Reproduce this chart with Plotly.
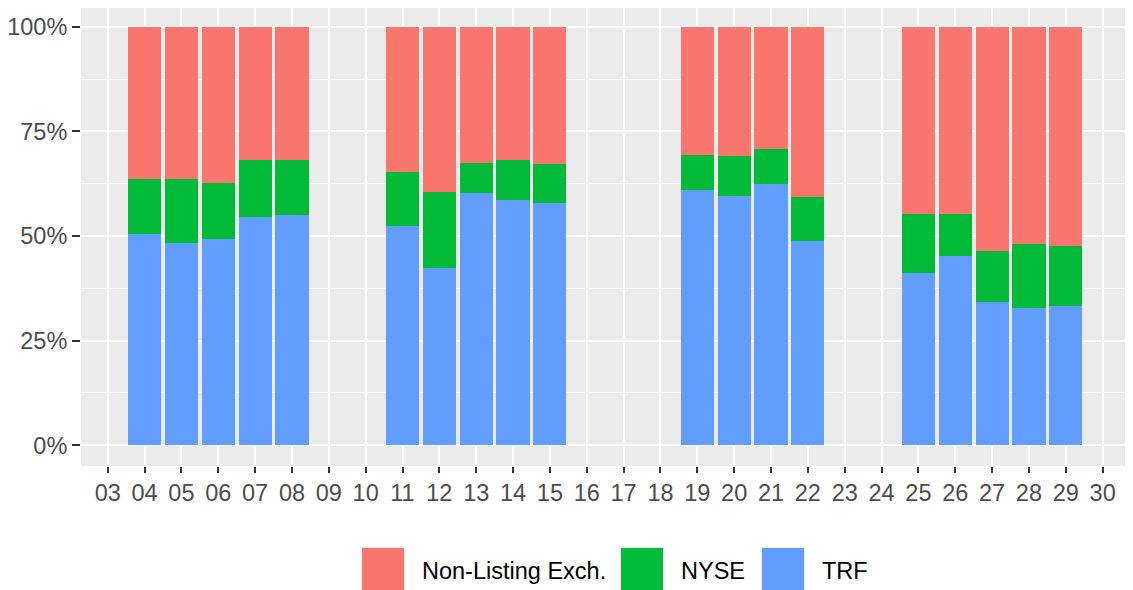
import plotly.graph_objects as go

# ---- data ----
all_days = ["03", "04", "05", "06", "07", "08", "09", "10", "11", "12", "13", "14", "15",
            "16", "17", "18", "19", "20", "21", "22", "23", "24", "25", "26", "27", "28", "29", "30"]
days = ["04", "05", "06", "07", "08", "11", "12", "13", "14", "15",
        "19", "20", "21", "22", "25", "26", "27", "28", "29"]
trf = [50.5, 48.4, 49.3, 54.6, 55.1, 52.4, 42.3, 60.3, 58.5, 57.9,
       61.0, 59.5, 62.5, 48.8, 41.2, 45.2, 34.3, 32.8, 33.3]
nyse = [13.1, 15.1, 13.4, 13.5, 13.1, 12.9, 18.2, 7.2, 9.6, 9.4,
        8.3, 9.7, 8.3, 10.5, 14.0, 10.0, 12.1, 15.4, 14.3]
non_listing = [36.4, 36.5, 37.3, 31.9, 31.8, 34.7, 39.5, 32.5, 31.9, 32.7,
               30.7, 30.8, 29.2, 40.7, 44.8, 44.8, 53.6, 51.8, 52.4]
series_names = ["Non-Listing Exch.", "NYSE", "TRF"]
colors = ["#F8766D", "#00BA38", "#619CFF"]
y_ticks = [0, 25, 50, 75, 100]

# page has an 8px body margin; work in figure coordinates
OFF = 8
W, H = 1133 - OFF, 590 - OFF
L, R, T, B = 73, 2, 0, 124
ph = H - T - B
pw = W - L - R

fig = go.Figure()
for name, vals, col in [("TRF", trf, colors[2]), ("NYSE", nyse, colors[1]),
                        ("Non-Listing Exch.", non_listing, colors[0])]:
    fig.add_trace(go.Bar(x=days, y=vals, name=name, marker=dict(color=col, line=dict(width=0)),
                         width=0.9, showlegend=False))

font = "Liberation Sans, Arial, sans-serif"
FS = 23.5
fig.update_layout(
    width=W, height=H, barmode="stack",
    margin=dict(l=L, r=R, t=T, b=B, pad=0),
    paper_bgcolor="white", plot_bgcolor="#EBEBEB",
    font=dict(family=font, size=FS, color="#4D4D4D"),
)
fig.update_xaxes(type="category", categoryorder="array", categoryarray=all_days,
                 range=[-0.725, 27.77], showgrid=True, gridcolor="white", gridwidth=2,
                 ticks="outside", ticklen=6, tickwidth=2, tickcolor="#333333",
                 tickfont=dict(size=FS, color="#4D4D4D"), zeroline=False, showline=False,
                 automargin=False)
fig.update_yaxes(range=[-4.95, 104.47], tickvals=y_ticks, ticktext=[f"{v}%" for v in y_ticks],
                 showgrid=True, gridcolor="white", gridwidth=2,
                 minor=dict(tickvals=[12.5, 37.5, 62.5, 87.5], showgrid=True, gridcolor="white", gridwidth=1, ticks=""),
                 ticks="outside", ticklen=8, tickwidth=2, tickcolor="#333333",
                 tickfont=dict(size=FS, color="#4D4D4D"), zeroline=False, showline=False,
                 automargin=False)

# custom legend (large keys like ggplot), positions given in page pixels
def px_x(px):
    return (px - OFF - L) / pw

def px_y(py):
    return (H - B - (py - OFF)) / ph

key_x = [362, 621, 762]
text_x = [420, 679, 820]
key_top, key_bot = 548, 590
for name, col, kx, tx in zip(series_names, colors, key_x, text_x):
    fig.add_shape(type="rect", xref="paper", yref="paper",
                  x0=px_x(kx - 1), x1=px_x(kx + 43),
                  y0=px_y(key_bot + 2), y1=px_y(key_top - 1),
                  fillcolor="#F2F2F2", line=dict(width=0), layer="above")
    fig.add_shape(type="rect", xref="paper", yref="paper",
                  x0=px_x(kx), x1=px_x(kx + 42),
                  y0=px_y(key_bot + 2), y1=px_y(key_top),
                  fillcolor=col, line=dict(width=0), layer="above")
    fig.add_annotation(xref="paper", yref="paper", x=px_x(tx), y=px_y(571),
                       text=name, showarrow=False, xanchor="left", yanchor="middle",
                       font=dict(family=font, size=FS, color="black"))

fig.write_html("out.html")
